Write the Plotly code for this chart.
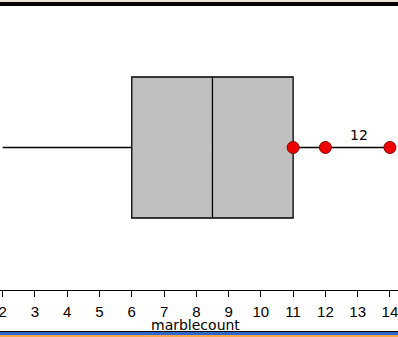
import plotly.graph_objects as go

# data
q1 = [6]
median = [8.5]
q3 = [11]
lowerfence = [2]
upperfence = [14]
points_x = [11, 12, 14]
label_value = 12
tick_vals = list(range(2, 15))
axis_title = "marblecount"

W, H = 398, 337
plot_h = 290  # axis line at y=290 px

fig = go.Figure()
fig.add_trace(go.Box(
    y=[0], q1=q1, median=median, q3=q3,
    lowerfence=lowerfence, upperfence=upperfence,
    orientation="h", width=0.9724, whiskerwidth=0,
    fillcolor="#c0c0c0", line=dict(color="black", width=1.3),
    hoverinfo="skip", boxpoints=False,
))
fig.add_trace(go.Scatter(
    x=points_x, y=[0] * len(points_x), mode="markers",
    marker=dict(size=12, color="#ee0000", line=dict(color="#880000", width=1)),
    hoverinfo="skip",
))
fig.add_annotation(x=label_value + 1.05, y=0, yshift=13, text=str(label_value),
                   showarrow=False, font=dict(family="DejaVu Sans", size=14, color="black"))

def pa(px):
    return 1 - px / plot_h

fig.add_annotation(x=0.49, xref="paper", y=pa(325), yref="paper", text=axis_title,
                   showarrow=False, yanchor="middle", xanchor="center", borderpad=0,
                   font=dict(family="DejaVu Sans", size=14, color="black"))

shapes = [
    dict(type="rect", xref="paper", yref="paper", x0=0, x1=1, y0=pa(2), y1=pa(0),
         fillcolor="#ece6d6", line_width=0),
    dict(type="rect", xref="paper", yref="paper", x0=0, x1=1, y0=pa(6), y1=pa(2),
         fillcolor="black", line_width=0),
    dict(type="rect", xref="paper", yref="paper", x0=0, x1=1, y0=pa(332), y1=pa(331),
         fillcolor="black", line_width=0),
    dict(type="rect", xref="paper", yref="paper", x0=0, x1=1, y0=pa(335), y1=pa(332),
         fillcolor="#3366cc", line_width=0),
    dict(type="rect", xref="paper", yref="paper", x0=0, x1=1, y0=pa(337), y1=pa(335),
         fillcolor="#f5a54a", line_width=0),
]

fig.update_layout(
    width=W, height=H, margin=dict(l=0, r=0, t=0, b=H - plot_h),
    paper_bgcolor="white", plot_bgcolor="white", showlegend=False,
    shapes=shapes,
    font=dict(family="Liberation Sans", color="black"),
    xaxis=dict(range=[1.916, 14.25], tickvals=tick_vals, ticks="outside", ticklen=6,
               tickcolor="black", showline=True, linecolor="black", linewidth=1.3,
               showgrid=False, zeroline=False, tickfont=dict(size=15),
               ticklabeloverflow="allow", ticklabelstandoff=2),
    yaxis=dict(range=[-0.98276, 1.01724], visible=False),
)

fig.write_html("out.html")
